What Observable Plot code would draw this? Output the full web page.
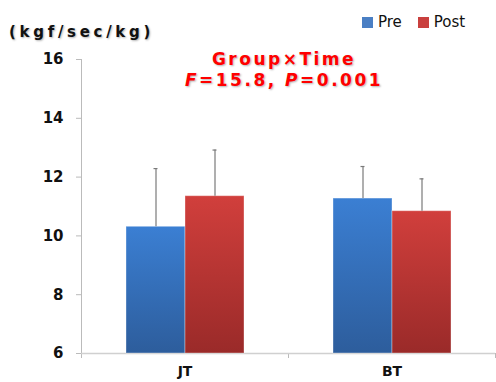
<!DOCTYPE html>
<html>
<head>
<meta charset="utf-8">
<script src="https://cdn.jsdelivr.net/npm/d3@7"></script>
<script src="https://cdn.jsdelivr.net/npm/@observablehq/plot@0.6"></script>
<style>
  body { margin: 0; background: #fff; font-family: "DejaVu Sans", Verdana, sans-serif; }
  #wrap { position: relative; width: 496px; height: 382px; overflow: hidden; }
  #chart { position: absolute; left: 0; top: 0; }
  .ylab { position: absolute; left: 9px; top: 23px; font-size: 15px; font-weight: bold; letter-spacing: 3.7px; color: #111; text-shadow: 1px 1px 2px rgba(0,0,0,0.3); white-space: nowrap; }
  .title { position: absolute; left: 134px; width: 300px; top: 49px; text-align: center; color: #f00; font-size: 17px; font-weight: bold; letter-spacing: 2.5px; line-height: 21px; text-shadow: 1px 1px 2px rgba(0,0,0,0.3); white-space: nowrap; }
  .legend { position: absolute; top: 13px; left: 362px; font-size: 15px; color: #111; white-space: nowrap; display: flex; align-items: center; }
  .sw { display: inline-block; width: 11px; height: 11px; margin-right: 5px; }
</style>
</head>
<body>
<div id="wrap">
  <div id="chart"></div>
  <div class="ylab">(kgf/sec/kg)</div>
  <div class="title">Group×Time<br><i>F</i>=15.8, <i>P</i>=0.001</div>
  <div class="legend"><span class="sw" style="background:#4a7fc4"></span>Pre<span class="sw" style="background:#c9403e;margin-left:16px"></span>Post</div>
</div>
<script>
const groups = ["JT", "BT"];
const series = ["Pre", "Post"];
const preMean = [10.31, 11.27];
const preSD = [1.98, 1.09];
const postMean = [11.35, 10.84];
const postSD = [1.57, 1.10];
const yTicks = [6, 8, 10, 12, 14, 16];

const data = [];
groups.forEach((g, i) => {
  data.push({group: g, series: "Pre", mean: preMean[i], sd: preSD[i]});
  data.push({group: g, series: "Post", mean: postMean[i], sd: postSD[i]});
});

const defs = () => {
  const d = d3.create("svg:defs");
  const mk = (id, top, bottom) => {
    const lg = d.append("linearGradient").attr("id", id).attr("x1", 0).attr("y1", 0).attr("x2", 0).attr("y2", 1);
    lg.append("stop").attr("offset", "0%").attr("stop-color", top);
    lg.append("stop").attr("offset", "100%").attr("stop-color", bottom);
  };
  mk("gPre", "#3b7fd3", "#2d5d9c");
  mk("gPost", "#d13f3c", "#9a2a29");
  return d.node();
};

const chart = Plot.plot({
  width: 496,
  height: 382,
  marginLeft: 81,
  marginRight: 1,
  marginTop: 59,
  marginBottom: 29,
  style: {fontFamily: "DejaVu Sans, Verdana, sans-serif", background: "#fff", overflow: "visible"},
  fx: {domain: groups, padding: 0},
  x: {domain: series, paddingInner: 0, paddingOuter: 0.75, axis: null},
  y: {domain: [6, 16]},
  marks: [
    defs,
    Plot.frame({anchor: "left", facet: "super", stroke: "#bbb", insetBottom: -4}),
    Plot.frame({anchor: "right", stroke: "#bbb", insetTop: 294, insetBottom: -4}),
    Plot.ruleY([6], {stroke: "#d0d0d0", strokeWidth: 1.5}),
    Plot.barY(data.filter(d => d.series === "Pre"), {fx: "group", x: "series", y1: 6, y2: "mean", fill: "url(#gPre)", stroke: "#ffffff", strokeOpacity: 0.35, strokeWidth: 1}),
    Plot.barY(data.filter(d => d.series === "Post"), {fx: "group", x: "series", y1: 6, y2: "mean", fill: "url(#gPost)", stroke: "#ffffff", strokeOpacity: 0.35, strokeWidth: 1}),
    Plot.ruleX(data, {fx: "group", x: "series", y1: "mean", y2: d => d.mean + d.sd, stroke: "#7a7a7a", strokeWidth: 1.2}),
    Plot.tickY(data, {fx: "group", x: "series", y: d => d.mean + d.sd, stroke: "#7a7a7a", strokeWidth: 1.2, insetLeft: 27.5, insetRight: 27.5}),
    Plot.axisY(yTicks, {tickSize: 5, tickPadding: 13, stroke: "#bbb", fontSize: 15, fontWeight: "bold", fill: "#111", label: null}),
    Plot.axisFx({anchor: "bottom", tickSize: 0, tickPadding: 13, fontSize: 14, fontWeight: "bold", fill: "#111", label: null})
  ]
});
document.getElementById("chart").appendChild(chart);
</script>
</body>
</html>
